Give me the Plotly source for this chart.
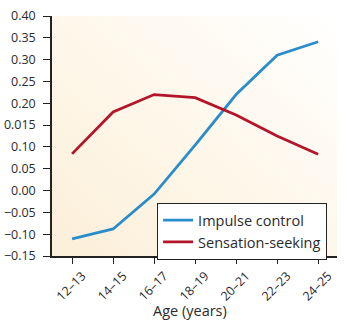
import base64
import plotly.graph_objects as go

# Age bands and the two developmental trajectories
ages = ["12–13", "14–15", "16–17", "18–19", "20–21", "22–23", "24–25"]
impulse_control = [-0.111, -0.088, -0.008, 0.104, 0.220, 0.310, 0.341]
sensation_seeking = [0.084, 0.180, 0.220, 0.213, 0.173, 0.125, 0.083]

y_tick_vals = [-0.15, -0.10, -0.05, 0.00, 0.05, 0.10, 0.15, 0.20, 0.25, 0.30, 0.35, 0.40]
y_tick_text = ["−0.15", "−0.10", "−0.05", "0.00", "0.05", "0.10", "0.015",
               "0.20", "0.25", "0.30", "0.35", "0.40"]

FONT = "Open Sans"
TEXT = "#2b2b2b"

# Soft cream-to-white wash behind the plot area
svg = (
    '<svg xmlns="http://www.w3.org/2000/svg" width="300" height="250" preserveAspectRatio="none">'
    '<defs><linearGradient id="g" x1="0" y1="1" x2="1" y2="0">'
    '<stop offset="0" stop-color="#fcefd9"/>'
    '<stop offset="0.5" stop-color="#fef7ea"/>'
    '<stop offset="1" stop-color="#ffffff"/>'
    '</linearGradient></defs>'
    '<rect width="300" height="250" fill="url(#g)"/></svg>'
)
bg_uri = "data:image/svg+xml;base64," + base64.b64encode(svg.encode()).decode()

fig = go.Figure()
fig.add_trace(go.Scatter(
    x=ages, y=impulse_control, mode="lines", name="Impulse control",
    line=dict(color="#2a8dcb", width=2.8),
))
fig.add_trace(go.Scatter(
    x=ages, y=sensation_seeking, mode="lines", name="Sensation-seeking",
    line=dict(color="#b3152b", width=2.8),
))

fig.update_layout(
    width=347, height=324,
    margin=dict(l=52, r=10, t=16, b=68),
    paper_bgcolor="white",
    plot_bgcolor="rgba(0,0,0,0)",
    font=dict(family=FONT, size=13, color=TEXT),
    showlegend=True,
    legend=dict(
        x=0.368, y=0.221, xanchor="left", yanchor="top",
        bgcolor="white", bordercolor="#222222", borderwidth=1.2,
        font=dict(family=FONT, size=14.5, color=TEXT),
        tracegroupgap=0, itemwidth=30,
    ),
    images=[dict(
        source=bg_uri, xref="paper", yref="paper", x=0, y=1,
        sizex=1, sizey=1, sizing="stretch", layer="below",
        xanchor="left", yanchor="top",
    )],
    annotations=[dict(
        text="Age (years)", xref="paper", yref="paper",
        x=0.485, y=-0.225, xanchor="center", yanchor="middle",
        showarrow=False, font=dict(family=FONT, size=14.5, color=TEXT),
    )],
)

fig.update_xaxes(
    type="category", range=[-0.49, 6.46], automargin=False,
    showgrid=False, zeroline=False,
    showline=True, linecolor="#222222", linewidth=1.5,
    ticks="outside", ticklen=6, tickwidth=1.3, tickcolor="#222222",
    tickangle=-45, ticklabelshift=10, ticklabelstandoff=0,
    tickfont=dict(family=FONT, size=12.5, color=TEXT),
)
fig.update_yaxes(
    range=[-0.15, 0.40], automargin=False,
    tickmode="array", tickvals=y_tick_vals, ticktext=y_tick_text,
    showgrid=False, zeroline=False,
    showline=True, linecolor="#222222", linewidth=1.5,
    ticks="outside", ticklen=7, tickwidth=1.3, tickcolor="#222222",
    ticklabelstandoff=5,
    tickfont=dict(family=FONT, size=12.5, color=TEXT),
)

fig.write_html("out.html")
